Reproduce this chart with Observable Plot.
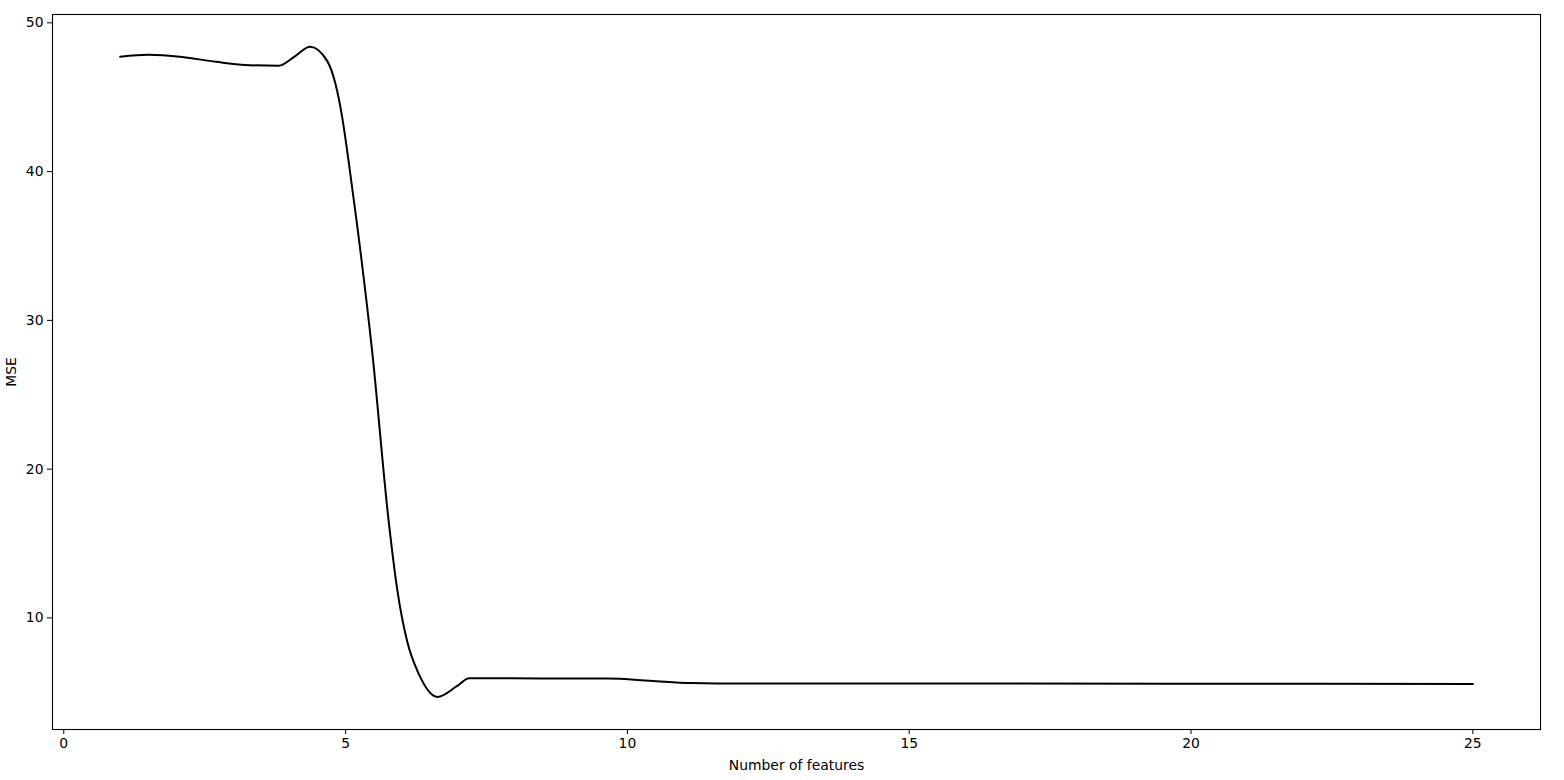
<!DOCTYPE html>
<html>
<head>
<meta charset="utf-8">
<script src="https://cdn.jsdelivr.net/npm/d3@7"></script>
<script src="https://cdn.jsdelivr.net/npm/@observablehq/plot@0.6"></script>
<style>
  html, body { margin: 0; padding: 0; background: #fff; }
  #chart { width: 1564px; height: 780px; }
</style>
</head>
<body>
<div id="chart"></div>
<script>
const features = [1.0, 1.5, 2.1, 2.7, 3.3, 3.815, 4.1, 4.37, 4.67, 4.82, 4.94, 5.06, 5.21, 5.47, 5.77, 5.92, 6.09, 6.30, 6.63, 6.98, 7.19, 8.5, 9.65, 10.4, 11.12, 11.6, 15, 20, 25];
const mse      = [47.72, 47.85, 47.7, 47.38, 47.15, 47.12, 47.75, 48.4, 47.46, 45.9, 43.65, 40.52, 36.25, 27.96, 16.31, 11.82, 8.46, 6.22, 4.69, 5.43, 5.95, 5.93, 5.92, 5.78, 5.62, 5.6, 5.6, 5.58, 5.55];
const xTicks = [0, 5, 10, 15, 20, 25];
const yTicks = [10, 20, 30, 40, 50];

const data = features.map((f, i) => ({features: f, mse: mse[i]}));

const chart = Plot.plot({
  width: 1564,
  height: 780,
  marginLeft: 52,
  marginRight: 24,
  marginTop: 14,
  marginBottom: 51,
  style: {fontFamily: "DejaVu Sans", fontSize: "13.9px", color: "#000", background: "#fff"},
  x: {domain: [-0.2, 26.2], ticks: xTicks, tickSize: 5, tickPadding: 4, label: "Number of features", labelAnchor: "center", labelArrow: "none", labelOffset: 40},
  y: {domain: [2.5, 50.56], ticks: yTicks, tickSize: 5, tickPadding: 4, label: "MSE", labelAnchor: "center", labelArrow: "none", labelOffset: 46},
  marks: [
    Plot.frame({stroke: "#000", strokeWidth: 1.1}),
    Plot.line(data, {x: "features", y: "mse", stroke: "#000", strokeWidth: 2, curve: "monotone-x"})
  ]
});
document.getElementById("chart").appendChild(chart);
</script>
</body>
</html>
